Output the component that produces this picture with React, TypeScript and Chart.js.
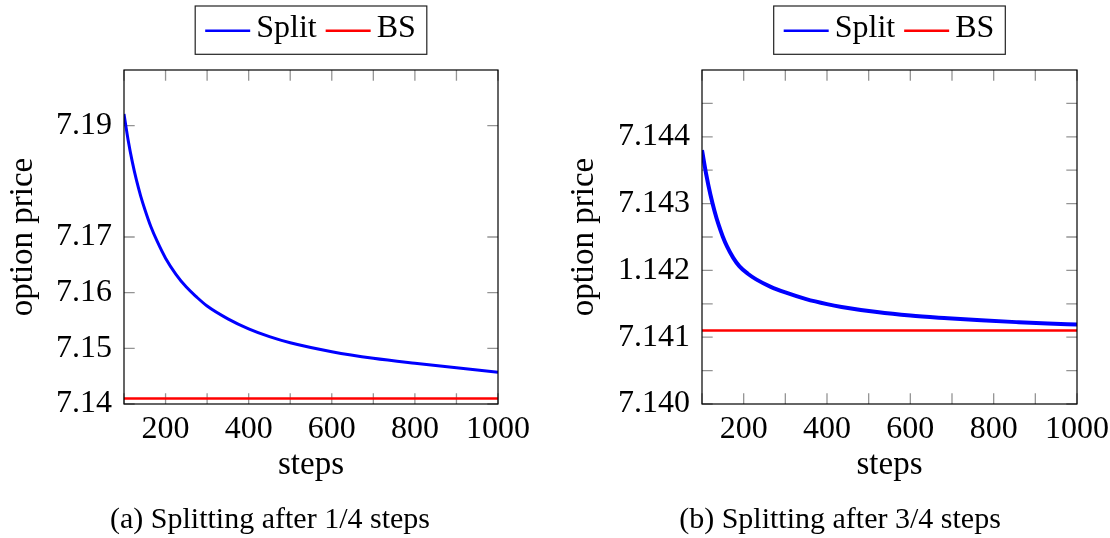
import React, { useEffect, useRef } from 'react';
import { Chart, registerables } from 'chart.js';

Chart.register(...registerables);

const FONT = '"Liberation Serif", "Times New Roman", serif';

// ---------- Data ----------
// (a) Splitting after 1/4 steps
const stepsA = [100, 110, 120, 130, 140, 150, 165, 180, 200, 225, 250, 275, 300, 350, 400, 450, 500, 600, 700, 800, 900, 1000];
const splitA = [7.1921, 7.1874, 7.1835, 7.1802, 7.1774, 7.175, 7.1718, 7.1692, 7.1662, 7.1633, 7.161, 7.1592, 7.1576, 7.1553, 7.1535, 7.1521, 7.151, 7.1494, 7.1482, 7.1473, 7.1465, 7.1457];
const bsStepsA = [100, 1000];
const bsA = [7.141, 7.141];

// (b) Splitting after 3/4 steps
const stepsB = [100, 110, 120, 130, 140, 150, 160, 175, 190, 210, 230, 265, 300, 350, 400, 435, 520, 600, 690, 770, 860, 930, 1000];
const splitB = [7.1438, 7.14344, 7.14314, 7.14289, 7.14268, 7.142505, 7.14236, 7.142188, 7.14206, 7.14195, 7.141866, 7.141754, 7.14167, 7.14157, 7.141495, 7.141453, 7.141376, 7.141324, 7.141284, 7.141252, 7.141224, 7.141205, 7.14119];
const bsStepsB = [100, 1000];
const bsB = [7.1411, 7.1411];

// Tick values / labels
const xTickValues = [100, 200, 300, 400, 500, 600, 700, 800, 900, 1000];
const xTickLabels = ['', '200', '', '400', '', '600', '', '800', '', '1000'];
const yTickValuesA = [7.14, 7.15, 7.16, 7.17, 7.19];
const yTickLabelsA = ['7.14', '7.15', '7.16', '7.17', '7.19'];
const yTickValuesB = [7.14, 7.1405, 7.141, 7.1415, 7.142, 7.1425, 7.143, 7.1435, 7.144, 7.1445];
const yTickLabelsB = ['7.140', '', '7.141', '', '1.142', '', '7.143', '', '7.144', ''];

const seriesNames = ['Split', 'BS'];
const captionA = '(a) Splitting after 1/4 steps';
const captionB = '(b) Splitting after 3/4 steps';

const decorPlugin = {
  id: 'decor',
  beforeDatasetsDraw(chart: any) {
    const { ctx, chartArea: a, scales } = chart;
    const L = 10.7;
    ctx.save();
    ctx.strokeStyle = 'rgba(0,0,0,0.42)';
    ctx.lineWidth = 1.3;
    ctx.beginPath();
    for (const t of scales.x.ticks) {
      const px = scales.x.getPixelForValue(t.value);
      ctx.moveTo(px, a.bottom);
      ctx.lineTo(px, a.bottom - L);
      ctx.moveTo(px, a.top);
      ctx.lineTo(px, a.top + L);
    }
    for (const t of scales.y.ticks) {
      const py = scales.y.getPixelForValue(t.value);
      ctx.moveTo(a.left, py);
      ctx.lineTo(a.left + L, py);
      ctx.moveTo(a.right, py);
      ctx.lineTo(a.right - L, py);
    }
    ctx.stroke();
    ctx.restore();
  },
  afterDatasetsDraw(chart: any) {
    const { ctx, chartArea: a } = chart;
    ctx.save();
    ctx.strokeStyle = '#000';
    ctx.lineWidth = 1.2;
    ctx.strokeRect(a.left, a.top, a.right - a.left, a.bottom - a.top);
    ctx.restore();
  },
  afterDraw(chart: any, _args: any, opts: any) {
    const { ctx, chartArea: a } = chart;
    ctx.save();
    // legend
    ctx.font = `32px ${FONT}`;
    const lineLen = 45, gapLT = 6, gapItems = 9, padL = 10, padR = 11;
    const ds = chart.data.datasets;
    let total = padL + padR;
    ds.forEach((d: any, i: number) => {
      total += lineLen + gapLT + ctx.measureText(d.label).width + (i > 0 ? gapItems : 0);
    });
    const cx = (a.left + a.right) / 2;
    const x0 = cx - total / 2;
    const top = 6, h = 48.3;
    ctx.fillStyle = '#fff';
    ctx.fillRect(x0, top, total, h);
    ctx.strokeStyle = '#222';
    ctx.lineWidth = 1.2;
    ctx.strokeRect(x0, top, total, h);
    let x = x0 + padL;
    ds.forEach((d: any, i: number) => {
      if (i > 0) x += gapItems;
      ctx.strokeStyle = d.borderColor;
      ctx.lineWidth = 2.5;
      ctx.beginPath();
      ctx.moveTo(x, 30.7);
      ctx.lineTo(x + lineLen, 30.7);
      ctx.stroke();
      x += lineLen + gapLT;
      ctx.fillStyle = '#000';
      ctx.textAlign = 'left';
      ctx.textBaseline = 'alphabetic';
      ctx.fillText(d.label, x, 36.5);
      x += ctx.measureText(d.label).width;
    });
    // caption
    ctx.font = `30px ${FONT}`;
    ctx.fillStyle = '#000';
    ctx.textAlign = 'center';
    ctx.textBaseline = 'alphabetic';
    ctx.fillText(opts.caption, opts.captionX, 528);
    ctx.restore();
  },
};

type PanelProps = {
  steps: number[];
  split: number[];
  bsSteps: number[];
  bs: number[];
  yMin: number;
  yMax: number;
  yTicks: number[];
  yLabels: string[];
  splitWidth: number;
  caption: string;
  captionX: number;
  yAxisWidth: number;
  padRight: number;
  yTitlePad: number;
  left: number;
};

function Panel(p: PanelProps) {
  const ref = useRef<HTMLCanvasElement>(null);
  useEffect(() => {
    if (!ref.current) return;
    const chart = new Chart(ref.current, {
      type: 'line',
      data: {
        datasets: [
          {
            label: seriesNames[0],
            data: p.steps.map((s, i) => ({ x: s, y: p.split[i] })),
            borderColor: '#0000ff',
            backgroundColor: '#0000ff',
            borderWidth: p.splitWidth,
            pointRadius: 0,
            cubicInterpolationMode: 'monotone',
            fill: false,
          },
          {
            label: seriesNames[1],
            data: p.bsSteps.map((s, i) => ({ x: s, y: p.bs[i] })),
            borderColor: '#ff0000',
            backgroundColor: '#ff0000',
            borderWidth: 2.6,
            pointRadius: 0,
            fill: false,
          },
        ],
      },
      options: {
        animation: false,
        responsive: false,
        maintainAspectRatio: false,
        layout: { padding: { top: 70, right: p.padRight, bottom: 54, left: 0 } },
        plugins: {
          legend: { display: false },
          tooltip: { enabled: false },
          decor: { caption: p.caption, captionX: p.captionX },
        } as any,
        scales: {
          x: {
            type: 'linear',
            min: 100,
            max: 1000,
            afterBuildTicks: (s: any) => {
              s.ticks = xTickValues.map((v) => ({ value: v }));
            },
            afterFit: (s: any) => {
              s.height = 80;
              s.paddingLeft = 0;
              s.paddingRight = 0;
            },
            ticks: {
              callback: (_v: any, i: number) => xTickLabels[i],
              font: { family: FONT, size: 32 },
              color: '#000',
              padding: 6,
              maxRotation: 0,
              minRotation: 0,
              autoSkip: false,
            },
            grid: { display: false, drawTicks: false },
            border: { display: false },
            title: {
              display: true,
              text: 'steps',
              font: { family: FONT, size: 33 },
              color: '#000',
              padding: { top: 0, bottom: -1 },
            },
          },
          y: {
            type: 'linear',
            min: p.yMin,
            max: p.yMax,
            afterBuildTicks: (s: any) => {
              s.ticks = p.yTicks.map((v) => ({ value: v }));
            },
            afterFit: (s: any) => {
              s.width = p.yAxisWidth;
              s.paddingTop = 0;
              s.paddingBottom = 0;
            },
            ticks: {
              callback: (_v: any, i: number) => p.yLabels[i],
              font: { family: FONT, size: 32 },
              color: '#000',
              padding: 12,
              autoSkip: false,
            },
            grid: { display: false, drawTicks: false },
            border: { display: false },
            title: {
              display: true,
              text: 'option price',
              font: { family: FONT, size: 33 },
              color: '#000',
              padding: { top: p.yTitlePad, bottom: 0 },
            },
          },
        },
      } as any,
      plugins: [decorPlugin as any],
    });
    return () => chart.destroy();
  }, []);
  return (
    <canvas
      ref={ref}
      width={555}
      height={538}
      style={{ position: 'absolute', left: p.left, top: 0, width: 555, height: 538 }}
    />
  );
}

export default function App() {
  return (
    <div style={{ position: 'absolute', left: 0, top: 0, width: 1110, height: 538, background: '#fff' }}>
      <Panel
        steps={stepsA}
        split={splitA}
        bsSteps={bsStepsA}
        bs={bsA}
        yMin={7.14}
        yMax={7.2}
        yTicks={yTickValuesA}
        yLabels={yTickLabelsA}
        splitWidth={3}
        caption={captionA}
        captionX={270}
        yAxisWidth={124}
        padRight={57}
        yTitlePad={4}
        left={0}
      />
      <Panel
        steps={stepsB}
        split={splitB}
        bsSteps={bsStepsB}
        bs={bsB}
        yMin={7.14}
        yMax={7.145}
        yTicks={yTickValuesB}
        yLabels={yTickLabelsB}
        splitWidth={4}
        caption={captionB}
        captionX={285}
        yAxisWidth={147}
        padRight={33}
        yTitlePad={10}
        left={555}
      />
    </div>
  );
}
